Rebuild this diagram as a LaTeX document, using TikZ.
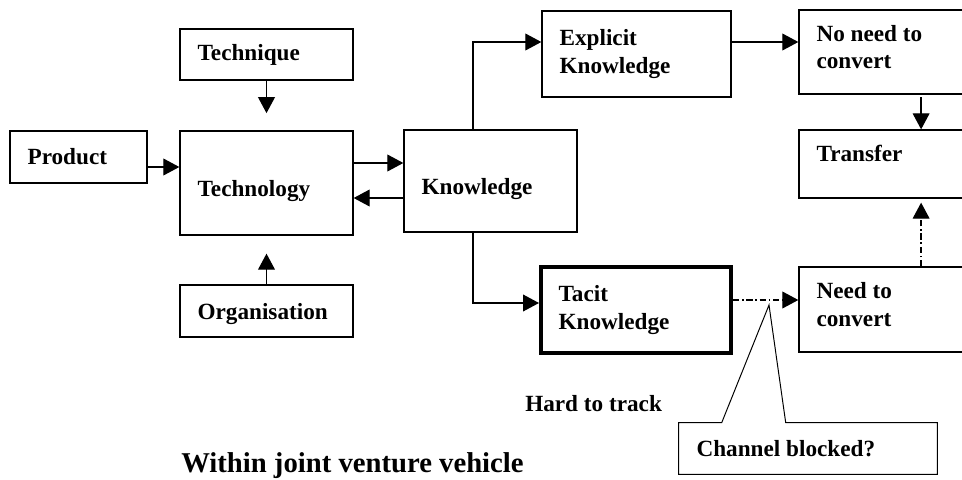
\documentclass[tikz,border=0pt]{standalone}
\usepackage{fontspec}
\setmainfont{Liberation Serif}
\usetikzlibrary{arrows.meta}

\begin{document}
\begin{tikzpicture}[x = 0.025cm, y = -0.025cm, font = \bfseries\fontsize{16.5}{19.5}\selectfont]
	\tikzstyle{boxStyle} = [draw, line width = 0.9pt, align = flush left, inner xsep = 0.44cm, inner ysep = 0pt]
	\tikzstyle{tacitStyle} = [boxStyle, line width = 2.8pt]
	\tikzstyle{calloutStyle} = [align = flush left, inner xsep = 0.44cm, inner ysep = 0pt]
	\tikzstyle{lowTextStyle} = [text height = 0.75cm, text depth = 0.08cm]
	\tikzstyle{highTextStyle} = [text depth = 0.93cm]
	\tikzstyle{textStyle} = [anchor = west, inner sep = 0pt]
	\tikzstyle{arrowStyle} = [line width = 0.9pt, -{Triangle[length = 0.4cm, width = 0.42cm]}]
	\tikzstyle{dashDotStyle} = [arrowStyle, dash pattern = on 4.5pt off 2pt on 1pt off 2pt]
	\useasboundingbox (0,0) rectangle (962,480);
	\node[boxStyle, text width = 2.545cm, minimum height = 1.3cm] (product) at (78.5,157) {Product};
	\node[boxStyle, text width = 3.445cm, minimum height = 1.275cm] (technique) at (266.5,54.5) {Technique};
	\node[boxStyle, lowTextStyle, text width = 3.445cm, minimum height = 2.6cm] (technology) at (266.5,183) {Technology};
	\node[boxStyle, text height = 0.5cm, text depth = 0.08cm, text width = 3.445cm, minimum height = 1.3cm] (organisation) at (266.5,311) {Organisation};
	\node[boxStyle, lowTextStyle, text width = 3.445cm, minimum height = 2.55cm] (knowledge) at (490.5,181) {Knowledge};
	\node[boxStyle, text width = 3.845cm, minimum height = 2.15cm] (explicit) at (636.5,54) {Explicit\\Knowledge};
	\node[tacitStyle, text width = 3.87cm, minimum height = 2.15cm] (tacit) at (636,310) {Tacit\\Knowledge};
	\node[boxStyle, highTextStyle, text width = 3.845cm, minimum height = 2.1cm] (noneed) at (893.5,52) {No need to\\convert};
	\node[boxStyle, text height = 0.39cm, text depth = 0.52cm, text width = 3.845cm, minimum height = 1.7cm] (transfer) at (893.5,164) {Transfer};
	\node[boxStyle, highTextStyle, text width = 3.845cm, minimum height = 2.125cm] (need) at (893.5,309.5) {Need to\\convert};
	\node[calloutStyle, text width = 5.57cm, minimum height = 1.275cm] (channel) at (808,448.5) {Channel blocked?};
	\node[textStyle] (hard) at (525,404) {Hard to track};
	\node[textStyle, font = \bfseries\fontsize{20.4}{24}\selectfont] (within) at (181,466) {Within joint venture vehicle};
	\coordinate (blocked) at (769,305);
	% technology side
	\draw[arrowStyle] ([yshift = -0.25cm]product.east) -- ([yshift = -0.25cm]product.east -| technology.west);
	\draw[arrowStyle, shorten > = 0.43cm] (technique) -- (technology);
	\draw[arrowStyle, shorten > = 0.45cm] (organisation) -- (technology);
	\draw[arrowStyle] ([yshift = 0.5cm]technology.east) -- ([yshift = 0.5cm]technology.east -| knowledge.west);
	\draw[arrowStyle] ([yshift = -0.425cm]knowledge.west) -- ([yshift = -0.425cm]knowledge.west -| technology.east);
	% knowledge side
	\draw[arrowStyle] ([xshift = -0.44cm]knowledge.north) |- ([yshift = 0.3cm]explicit.west);
	\draw[arrowStyle] ([xshift = -0.44cm]knowledge.south) |- ([yshift = 0.175cm]tacit.west);
	\draw[arrowStyle] ([yshift = 0.3cm]explicit.east) -- ([yshift = 0.3cm]explicit.east -| noneed.west);
	\draw[arrowStyle] ([xshift = 0.69cm, yshift = -0.07cm]noneed.south) -- ([xshift = 0.69cm]noneed.south |- transfer.north);
	\draw[dashDotStyle] ([yshift = 0.25cm]tacit.east) -- ([yshift = 0.25cm]tacit.east -| need.west);
	\draw[dashDotStyle, shorten > = 0.1cm] ([xshift = 0.69cm]need.north) -- ([xshift = 0.69cm]need.north |- transfer.south);
	% callout
	\draw[line width = 0.7pt] (channel.north west) -- ([xshift = 1.075cm]channel.north west) -- (blocked) -- ([xshift = 2.675cm]channel.north west) -- (channel.north east) -- (channel.south east) -- (channel.south west) -- cycle;
\end{tikzpicture}
\end{document}
